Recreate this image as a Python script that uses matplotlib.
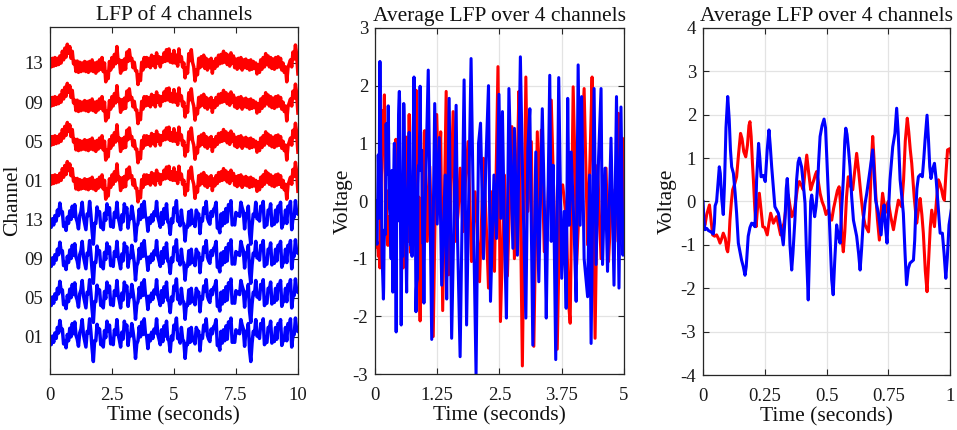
import numpy as np
import matplotlib
matplotlib.use("Agg")
import matplotlib.pyplot as plt

plt.rcParams['font.family'] = ['Liberation Serif', 'DejaVu Serif']
plt.rcParams['axes.unicode_minus'] = False

# ---------------- data ----------------
channel_labels = ["01", "05", "09", "13", "01", "05", "09", "13"]

# LFP trace shape (relative to channel baseline), sampled every 0.05 s over 0-10 s
red_lfp = [
    0.10, -0.10, 0.12, -0.08, 0.14, -0.06, 0.12, -0.04, 0.18, 0.00,
    0.30, 0.08, 0.38, 0.15, 0.48, 0.25, 0.42, 0.12, 0.30, -0.02,
    0.05, -0.22, 0.05, -0.24, 0.02, -0.22, 0.00, -0.20, 0.04, -0.22,
    0.02, -0.24, 0.04, -0.20, 0.08, -0.22, 0.00, -0.26, 0.02, -0.20,
    0.08, -0.16, 0.14, -0.22, 0.00, -0.48, -0.22, -0.40, 0.04, -0.18,
    0.14, -0.10, 0.22, -0.02, 0.42, 0.02, 0.08, -0.26, 0.06, -0.18,
    0.10, -0.16, 0.28, 0.04, 0.34, 0.08, 0.12, -0.12, 0.02, -0.20,
    -0.20, -0.55, -0.30, -0.45, 0.02, -0.18, 0.14, -0.10, 0.14, -0.08,
    0.12, -0.12, 0.20, -0.06, 0.16, -0.12, 0.26, 0.00, 0.16, -0.10,
    0.14, 0.02, 0.26, 0.04, 0.34, 0.06, 0.36, 0.02, 0.22, 0.00,
    0.32, 0.00, 0.20, -0.08, 0.36, 0.04, 0.16, -0.10, 0.00, -0.38,
    -0.12, -0.26, 0.24, 0.06, 0.34, 0.02, -0.10, -0.46, -0.18, -0.30,
    0.12, -0.12, 0.16, -0.08, 0.20, -0.14, 0.12, -0.18, 0.08, -0.12,
    0.12, -0.26, 0.04, -0.14, 0.12, -0.08, 0.20, -0.02, 0.22, 0.00,
    0.30, 0.02, 0.24, -0.04, 0.20, -0.08, 0.26, 0.00, 0.18, -0.12,
    0.10, -0.16, 0.12, -0.12, 0.14, -0.18, 0.08, -0.12, 0.10, -0.14,
    0.06, -0.18, 0.08, -0.16, 0.04, -0.14, 0.00, -0.28, -0.04, -0.24,
    0.08, -0.16, 0.14, -0.10, 0.24, -0.04, 0.18, -0.10, 0.14, -0.14,
    0.10, -0.16, 0.14, -0.12, 0.16, -0.10, 0.12, -0.18, 0.00, -0.24,
    -0.10, -0.48, -0.12, -0.02, 0.08, -0.10, 0.28, 0.10, 0.46, 0.20,
    -0.28,
]
blue_lfp = [
    -0.05, -0.20, 0.02, -0.14, 0.10, -0.04, 0.24, 0.10, 0.42, 0.18,
    0.20, -0.18, -0.10, -0.28, 0.06, -0.10, 0.22, 0.00, 0.34, 0.08,
    0.38, 0.04, -0.06, -0.24, 0.10, 0.20, 0.44, 0.06, -0.10, -0.26,
    0.14, 0.10, 0.46, 0.12, -0.30, -0.63, -0.10, -0.10, 0.32, 0.14,
    0.20, -0.20, -0.12, -0.26, 0.16, -0.02, 0.40, 0.14, 0.30, -0.18,
    -0.12, -0.20, 0.18, 0.06, 0.44, 0.06, -0.08, -0.26, 0.12, -0.06,
    0.40, 0.20, 0.30, -0.22, 0.06, 0.02, 0.34, 0.14, -0.10, -0.55,
    -0.18, -0.10, 0.26, 0.00, 0.38, 0.06, 0.46, 0.08, 0.02, -0.30,
    0.04, -0.10, 0.12, -0.04, 0.20, 0.10, 0.46, 0.06, -0.06, -0.20,
    0.18, -0.12, 0.28, 0.02, 0.40, -0.06, -0.10, -0.38, 0.02, -0.08,
    0.30, 0.20, 0.48, -0.04, -0.04, -0.16, 0.24, -0.06, -0.12, -0.55,
    -0.18, -0.20, 0.20, -0.14, 0.24, -0.10, -0.04, -0.18, 0.24, 0.16,
    0.14, -0.36, 0.02, -0.04, 0.30, 0.16, 0.46, 0.04, -0.06, -0.12,
    0.20, 0.08, 0.26, 0.30, 0.44, -0.22, -0.20, -0.34, 0.14, -0.16,
    0.18, -0.10, 0.28, -0.06, 0.38, 0.30, 0.48, -0.14, -0.10, -0.14,
    0.18, 0.10, 0.14, 0.08, 0.44, 0.30, 0.20, -0.24, 0.14, 0.10,
    0.34, -0.34, -0.63, -0.16, 0.14, 0.08, 0.44, 0.02, 0.06, -0.04,
    0.34, 0.24, 0.46, -0.20, -0.14, -0.14, 0.24, 0.20, 0.40, -0.16,
    -0.10, -0.12, 0.24, -0.06, 0.34, 0.26, 0.44, -0.22, -0.10, -0.08,
    0.24, -0.10, 0.34, 0.24, 0.46, -0.26, 0.04, 0.06, 0.48, 0.16,
    0.14,
]
lfp_time = np.linspace(0, 10, len(red_lfp))

# Average LFP (time, voltage)
blue_avg_t = [
    0.000, 0.004, 0.008, 0.015, 0.022, 0.032, 0.042, 0.046, 0.049, 0.055,
    0.061, 0.066, 0.070, 0.076, 0.082, 0.087, 0.093, 0.100, 0.106, 0.111,
    0.116, 0.123, 0.130, 0.136, 0.143, 0.156, 0.163, 0.170, 0.175, 0.183,
    0.190, 0.197, 0.204, 0.210, 0.214, 0.217, 0.225, 0.230, 0.235, 0.244,
    0.252, 0.260, 0.267, 0.272, 0.278, 0.285, 0.291, 0.305, 0.315, 0.325,
    0.332, 0.337, 0.341, 0.346, 0.352, 0.359, 0.364, 0.372, 0.379, 0.385,
    0.390, 0.399, 0.406, 0.413, 0.419, 0.426, 0.431, 0.436, 0.440, 0.446,
    0.452, 0.458, 0.463, 0.468, 0.474, 0.482, 0.490, 0.496, 0.502, 0.508,
    0.515, 0.521, 0.527, 0.533, 0.541, 0.548, 0.555, 0.562, 0.568, 0.574,
    0.578, 0.583, 0.589, 0.595, 0.602, 0.609, 0.622, 0.630, 0.636, 0.642,
    0.649, 0.656, 0.663, 0.676, 0.687, 0.693, 0.699, 0.710, 0.721, 0.727,
    0.733, 0.739, 0.745, 0.751, 0.757, 0.768, 0.777, 0.784, 0.790, 0.798,
    0.805, 0.811, 0.818, 0.824, 0.831, 0.838, 0.852, 0.857, 0.861, 0.866,
    0.872, 0.880, 0.888, 0.894, 0.899, 0.907, 0.913, 0.918, 0.923, 0.930,
    0.937, 0.944, 0.950, 0.960, 0.969, 0.976, 0.983, 0.989, 0.996,
    1.07, 1.14, 1.20, 1.25, 1.29, 1.34, 1.41, 1.44, 1.49, 1.54,
    1.63, 1.66, 1.71, 1.79, 1.84, 1.93, 1.98, 2.03, 2.08, 2.12,
    2.18, 2.23, 2.28, 2.32, 2.39, 2.44, 2.49, 2.53, 2.56, 2.60,
    2.64, 2.69, 2.77, 2.80, 2.86, 2.92, 2.97, 3.03, 3.07, 3.11,
    3.17, 3.23, 3.29, 3.36, 3.41, 3.44, 3.51, 3.54, 3.58, 3.63,
    3.69, 3.75, 3.80, 3.84, 3.87, 3.90, 3.94, 4.00, 4.04, 4.08,
    4.12, 4.15, 4.20, 4.27, 4.31, 4.34, 4.40, 4.44, 4.49, 4.54,
    4.57, 4.62, 4.67, 4.74, 4.80, 4.85, 4.90, 4.94, 4.98, 5.00,
]
blue_avg_v = [
    0.00, -0.45, -0.65, -0.62, -0.67, -0.70, -0.75, -0.50, -0.10, 0.00,
    0.45, 0.80, 0.65, 0.05, -0.30, 0.40, 1.70, 2.42, 1.90, 1.20,
    0.80, 0.65, 0.20, -0.27, -0.96, -1.35, -1.50, -1.70, -1.50, -0.80,
    -0.60, -0.50, -0.52, -0.58, -0.10, 0.50, 1.34, 1.00, 0.57, 0.60,
    0.46, 1.20, 1.65, 1.30, 0.80, 0.30, -0.12, -0.27, -0.60, -1.00,
    -0.40, 0.30, 0.53, 0.10, -1.00, -1.58, -1.20, -0.43, 0.50, 0.90,
    1.00, 0.80, 0.40, -0.04, -1.20, -2.27, -1.20, 0.00, 0.15, -0.10,
    -0.35, -0.10, 0.26, 0.90, 1.50, 1.75, 1.90, 1.70, 0.90, 0.10,
    -0.90, -1.80, -2.15, -1.40, -0.54, -0.80, -0.96, -0.10, 0.50, 1.40,
    1.69, 1.55, 1.20, 0.80, 0.10, -0.43, -0.80, -1.20, -1.58, -1.10,
    -0.43, -0.05, 0.19, 0.72, 1.19, 0.60, 0.03, -0.27, -0.77, -0.30,
    -0.08, -0.60, -0.96, -0.20, 0.50, 1.26, 1.57, 2.15, 1.60, 0.50,
    0.10, -0.27, -1.20, -1.92, -1.55, -1.42, -1.35, -0.90, -0.27, 0.30,
    0.57, 0.62, 0.57, 1.00, 1.42, 1.99, 1.40, 0.80, 0.53, 0.75,
    0.88, 0.50, 0.03, -0.73, -0.73, -1.20, -1.77, -1.30, -0.54,
    2.27, -2.40, 1.69, -0.40, 1.10, -1.46, 0.45, -1.70, 1.78, -2.38,
    1.66, -0.70, -2.70, 2.10, -2.15, 2.47, -0.40, -3.00, 1.00, 1.35,
    -1.00, 0.74, 2.00, -1.74, 0.45, -0.65, 1.85, -0.30, 1.55, -0.60,
    -2.03, 1.95, -0.82, 1.26, -0.94, 2.50, 0.16, -2.03, 0.91, 1.60,
    -2.50, 0.85, -1.40, 1.60, -0.40, -2.03, 2.18, -0.70, 0.62, -2.75,
    2.14, -1.34, -0.18, -1.86, 1.78, -0.42, 0.85, -0.53, -1.74, 2.36,
    -0.42, 1.81, -1.00, -1.66, 0.45, -2.47, 1.95, -1.10, 0.74, 1.95,
    -1.10, 0.57, -1.22, 1.09, -1.46, 1.81, -1.51, 1.63, -0.94, -0.30,
]
red_avg_t = [
    0.000, 0.008, 0.015, 0.026, 0.032, 0.039, 0.047, 0.055, 0.062, 0.069,
    0.076, 0.082, 0.090, 0.096, 0.100, 0.105, 0.109, 0.115, 0.120, 0.128,
    0.136, 0.144, 0.152, 0.158, 0.165, 0.173, 0.180, 0.186, 0.190, 0.195,
    0.200, 0.204, 0.210, 0.215, 0.220, 0.228, 0.235, 0.242, 0.250, 0.260,
    0.267, 0.274, 0.285, 0.298, 0.306, 0.314, 0.322, 0.328, 0.338, 0.345,
    0.352, 0.359, 0.365, 0.372, 0.382, 0.390, 0.398, 0.406, 0.413, 0.420,
    0.427, 0.436, 0.443, 0.449, 0.455, 0.460, 0.467, 0.474, 0.482, 0.490,
    0.498, 0.507, 0.514, 0.521, 0.529, 0.537, 0.544, 0.551, 0.556, 0.562,
    0.568, 0.574, 0.581, 0.588, 0.597, 0.606, 0.614, 0.622, 0.630, 0.640,
    0.648, 0.656, 0.663, 0.670, 0.675, 0.681, 0.687, 0.692, 0.699, 0.706,
    0.714, 0.720, 0.727, 0.732, 0.737, 0.744, 0.750, 0.760, 0.771, 0.781,
    0.791, 0.797, 0.804, 0.812, 0.819, 0.827, 0.833, 0.839, 0.845, 0.855,
    0.865, 0.872, 0.879, 0.886, 0.892, 0.900, 0.907, 0.913, 0.920, 0.926,
    0.932, 0.937, 0.945, 0.953, 0.960, 0.966, 0.972, 0.977, 0.983, 0.990,
    1.000,
    1.05, 1.10, 1.13, 1.17, 1.24, 1.28, 1.32, 1.36, 1.43, 1.48,
    1.53, 1.57, 1.62, 1.67, 1.71, 1.77, 1.82, 1.87, 1.94, 2.01,
    2.05, 2.10, 2.18, 2.23, 2.28, 2.34, 2.40, 2.47, 2.52, 2.60,
    2.66, 2.75, 2.80, 2.86, 2.89, 2.96, 3.03, 3.07, 3.14, 3.19,
    3.26, 3.30, 3.34, 3.40, 3.46, 3.54, 3.61, 3.66, 3.72, 3.77,
    3.84, 3.89, 3.92, 3.98, 4.02, 4.05, 4.12, 4.20, 4.27, 4.32,
    4.36, 4.42, 4.47, 4.54, 4.64, 4.69, 4.76, 4.82, 4.89, 4.94,
    4.97, 5.00,
]
red_avg_v = [
    -0.45, -0.54, -0.30, -0.08, -0.40, -0.77, -0.80, -0.77, -0.85, -0.96,
    -0.85, -0.73, -0.85, -1.10, -1.16, -0.90, -0.43, 0.00, 0.27, 0.40,
    0.57, 1.10, 1.57, 1.45, 1.15, 1.03, 1.30, 1.75, 1.84, 1.50,
    0.90, 0.50, -0.20, -0.58, -0.20, 0.19, -0.20, -0.58, -0.60, -0.77,
    -0.50, -0.27, -0.50, -0.35, -0.55, -0.77, -0.60, -0.50, -0.05, 0.15,
    -0.10, -0.35, -0.30, -0.12, 0.30, 0.46, 0.38, 0.27, 0.70, 1.07,
    0.70, 0.27, 0.40, 0.50, 0.62, 0.69, 0.45, 0.19, 0.00, -0.12,
    -0.30, -0.20, -0.35, -0.43, -0.15, 0.07, 0.25, 0.34, 0.00, -0.80,
    -1.16, -0.70, 0.10, 0.57, 0.35, 0.27, 0.70, 1.11, 0.70, 0.11,
    -0.30, -0.54, -0.62, -0.70, -0.20, 0.80, 1.50, 1.00, 0.19, -0.40,
    -0.89, -0.30, 0.19, 0.00, -0.27, -0.10, 0.00, -0.35, -0.65, -0.30,
    0.03, -0.05, -0.12, 0.50, 1.40, 1.92, 1.60, 1.20, 0.88, 0.10,
    -0.50, -0.20, 0.07, -0.30, -0.73, -1.60, -2.08, -1.40, -0.60, -0.20,
    -0.40, -0.58, 0.00, 0.50, 0.40, 0.27, 0.10, 0.03, 0.60, 1.19,
    1.22,
    -0.70, 0.60, -0.40, -2.35, 1.50, 0.20, 1.20, -1.90, 1.90, -1.28,
    0.30, 1.55, -0.70, -0.20, 0.57, -0.53, 0.40, 1.03, -1.05, 0.16,
    -0.50, -1.40, 0.74, -0.30, -1.51, 0.16, -1.22, 2.33, -2.09, 0.45,
    -1.30, 1.29, -1.00, 0.68, 1.90, -2.86, 2.15, -0.18, 1.03, -2.52,
    1.20, -0.30, 1.23, -0.88, -0.40, 1.75, -0.53, -2.57, 0.20, 0.28,
    -0.30, -1.80, -2.12, 1.98, 0.50, -1.10, 0.30, 1.95, -0.76, 0.80,
    2.15, -2.38, 0.62, -1.00, 0.57, -1.05, 0.20, -0.70, 1.52, -0.65,
    1.09, -0.53,
]

left_xticks = [0, 2.5, 5, 7.5, 10]
mid_xticks = [0, 1.25, 2.5, 3.75, 5]
right_xticks = [0, 0.25, 0.5, 0.75, 1]
mid_yticks = [-3, -2, -1, 0, 1, 2, 3]
right_yticks = [-4, -3, -2, -1, 0, 1, 2, 3, 4]

# ---------------- plotting ----------------
RED = '#ff0000'
BLUE = '#0000ff'
AX_COL = '#262626'
TXT = '#111111'
TICK_FS = 13.5
LAB_FS = 15.5

fig = plt.figure(figsize=(9.57, 4.30), dpi=100)
ax1 = fig.add_axes([0.0522, 0.1302, 0.2591, 0.8070])
ax2 = fig.add_axes([0.3918, 0.1302, 0.2602, 0.8047])
ax3 = fig.add_axes([0.7346, 0.1279, 0.2581, 0.8070])


def style(ax):
    for s in ax.spines.values():
        s.set_color(AX_COL)
        s.set_linewidth(0.9)
    ax.tick_params(direction='in', length=4, width=0.8, colors=AX_COL,
                   labelcolor='#1a1a1a', labelsize=TICK_FS,
                   top=True, right=True)
    ax.tick_params(axis='x', pad=9)
    ax.tick_params(axis='y', pad=5)


# Left: stacked channels
for i, lab in enumerate(channel_labels):
    offset = i + 1
    trace = red_lfp if i >= 4 else blue_lfp
    col = RED if i >= 4 else BLUE
    ax1.plot(lfp_time, np.asarray(trace) + offset, color=col, lw=2.5,
             solid_joinstyle='round')
ax1.set_xlim(0, 10)
ax1.set_ylim(0.05, 8.92)
ax1.set_xticks(left_xticks)
ax1.set_xticklabels(['0', '2.5', '5', '7.5', '10'])
ax1.set_yticks(range(1, 9))
ax1.set_yticklabels(channel_labels)
ax1.set_title('LFP of 4 channels', fontsize=LAB_FS, pad=5, color=TXT)
ax1.set_xlabel('Time (seconds)', fontsize=LAB_FS, color=TXT, labelpad=2)
ax1.set_ylabel('Channel', fontsize=LAB_FS, color=TXT)
ax1.yaxis.set_label_coords(-0.113, 0.5)
style(ax1)

# Middle: 0-5 s
ax2.grid(True, color='#e3e3e3', lw=0.9)
ax2.set_axisbelow(True)
ax2.plot(red_avg_t, red_avg_v, color=RED, lw=2.2, solid_joinstyle='round')
ax2.plot(blue_avg_t, blue_avg_v, color=BLUE, lw=2.2, solid_joinstyle='round')
ax2.set_xlim(0, 5)
ax2.set_ylim(-3, 3)
ax2.set_xticks(mid_xticks)
ax2.set_xticklabels(['0', '1.25', '2.5', '3.75', '5'])
ax2.set_yticks(mid_yticks)
ax2.set_title('Average LFP over 4 channels', fontsize=LAB_FS, pad=5, color=TXT)
ax2.set_xlabel('Time (seconds)', fontsize=LAB_FS, color=TXT, labelpad=2)
ax2.set_ylabel('Voltage', fontsize=LAB_FS, color=TXT)
ax2.yaxis.set_label_coords(-0.088, 0.5)
style(ax2)

# Right: 0-1 s
ax3.grid(True, color='#e3e3e3', lw=0.9)
ax3.set_axisbelow(True)
ax3.plot(red_avg_t, red_avg_v, color=RED, lw=2.2, solid_joinstyle='round')
ax3.plot(blue_avg_t, blue_avg_v, color=BLUE, lw=2.2, solid_joinstyle='round')
ax3.set_xlim(0, 1)
ax3.set_ylim(-4, 4)
ax3.set_xticks(right_xticks)
ax3.set_xticklabels(['0', '0.25', '0.5', '0.75', '1'])
ax3.set_yticks(right_yticks)
ax3.set_title('Average LFP over 4 channels', fontsize=LAB_FS, pad=5, color=TXT)
ax3.set_xlabel('Time (seconds)', fontsize=LAB_FS, color=TXT, labelpad=2)
ax3.set_ylabel('Voltage', fontsize=LAB_FS, color=TXT)
ax3.yaxis.set_label_coords(-0.105, 0.5)
style(ax3)

fig.savefig('out.png', dpi=100)
